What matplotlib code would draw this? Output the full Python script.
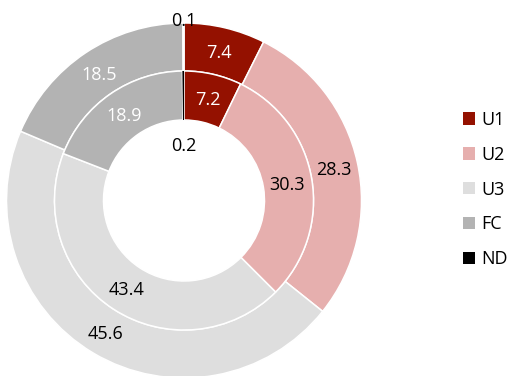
import numpy as np
import matplotlib.pyplot as plt
from matplotlib.patches import Patch

plt.rcParams['font.family'] = ['Open Sans', 'DejaVu Sans']

categories = ['U1', 'U2', 'U3', 'FC', 'ND']
outer_values = [7.4, 28.3, 45.6, 18.5, 0.1]
inner_values = [7.2, 30.3, 43.4, 18.9, 0.2]

colors = ['#941100', '#E6AFAE', '#DEDEDE', '#B3B3B3', '#000000']
text_colors = ['white', 'black', 'black', 'white', 'black']

W, H = 508, 376
fig = plt.figure(figsize=(W / 100, H / 100), dpi=100)

# ring geometry in pixels, scaled to the outer radius
R = 177.5
cx, cy = 184, H - 200.5
ax = fig.add_axes([(cx - R) / W, (cy - R) / H, 2 * R / W, 2 * R / H])

r_out, r_mid, r_hole = 1.0, 129.5 / R, 80.5 / R


def ring(values, radius, width, label_r, small_r):
    wedges, _ = ax.pie(values, radius=radius, colors=colors, startangle=90,
                       counterclock=False,
                       wedgeprops=dict(width=width, edgecolor='white', linewidth=1.1))
    for w, v, tc in zip(wedges, values, text_colors):
        ang = np.deg2rad((w.theta1 + w.theta2) / 2)
        r = label_r if v >= 1 else small_r
        ax.text(r * np.cos(ang), r * np.sin(ang), f'{v:.1f}', ha='center',
                va='center_baseline', color=tc, fontsize=13)
    return wedges


ring(outer_values, r_out, r_out - r_mid, (r_out + r_mid) / 2, 181.5 / R)
inner = ring(inner_values, r_mid, r_mid - r_hole, (r_mid + r_hole) / 2, 57 / R)
inner[-1].set_edgecolor('none')

ax.set_xlim(-1, 1)
ax.set_ylim(-1, 1)
ax.axis('off')

handles = [Patch(facecolor=c, edgecolor='none') for c in colors]
fig.legend(handles, categories, loc='center left', bbox_to_anchor=(463 / W, 0.496),
           frameon=False, fontsize=13, handlelength=0.67, handleheight=0.67,
           handletextpad=0.35, labelspacing=0.93, borderpad=0, borderaxespad=0)

fig.savefig('out.png', dpi=100)
